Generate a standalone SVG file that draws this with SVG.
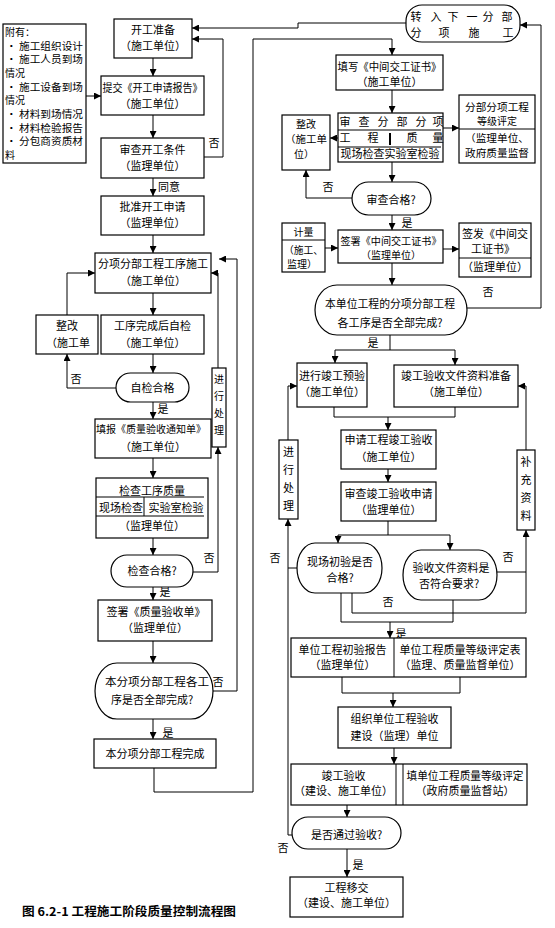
<svg xmlns="http://www.w3.org/2000/svg" width="555" height="928" viewBox="0 0 555 928">
<style>
text{font-family:"Noto Sans CJK SC","Noto Sans",sans-serif;font-size:11px;fill:#000;text-anchor:middle}
.l{text-anchor:start}
.s{font-size:10px}
.at{font-size:10px}
.b{fill:#fff;stroke:#000;stroke-width:1.2}
.ln{fill:none;stroke:#000;stroke-width:1}
.c path,.c polyline,.c line{fill:none;stroke:#000;stroke-width:1}
.cap{font-weight:bold;font-size:12px}
</style>
<defs>
<marker id="a" markerUnits="userSpaceOnUse" markerWidth="7" markerHeight="7" refX="7" refY="3.5" orient="auto">
<path d="M0,0 L7,3.5 L0,7 z" fill="#000"/>
</marker>
</defs>
<rect width="555" height="928" fill="#fff"/>

<g class="c" id="connectors">
<line x1="153" y1="58" x2="153" y2="76" marker-end="url(#a)"/>
<line x1="86" y1="96" x2="101" y2="96" marker-end="url(#a)"/>
<line x1="153" y1="115" x2="153" y2="138" marker-end="url(#a)"/>
<polyline points="204,157 223,157 223,39 192,39" marker-end="url(#a)"/>
<line x1="153" y1="178" x2="153" y2="196" marker-end="url(#a)"/>
<line x1="153" y1="235" x2="153" y2="253" marker-end="url(#a)"/>
<line x1="153" y1="293" x2="153" y2="315" marker-end="url(#a)"/>
<line x1="153" y1="354" x2="153" y2="373" marker-end="url(#a)"/>
<polyline points="116,388 67,388 67,354" marker-end="url(#a)"/>
<polyline points="67,315 67,273 95,273" marker-end="url(#a)"/>
<line x1="153" y1="402" x2="153" y2="419" marker-end="url(#a)"/>
<line x1="153" y1="458" x2="153" y2="478" marker-end="url(#a)"/>
<line x1="153" y1="538" x2="153" y2="555" marker-end="url(#a)"/>
<polyline points="193,572 218,572 218,447" marker-end="url(#a)"/>
<polyline points="218,368 218,273 211,273" marker-end="url(#a)"/>
<line x1="153" y1="587" x2="153" y2="600" marker-end="url(#a)"/>
<line x1="153" y1="641" x2="153" y2="663" marker-end="url(#a)"/>
<polyline points="213,691 237,691 237,259 219,259" marker-end="url(#a)"/>
<line x1="153" y1="719" x2="153" y2="739" marker-end="url(#a)"/>
<polyline points="154,768 154,792 253,792 253,39 392,39 392,55" marker-end="url(#a)"/>
<polyline points="406,23 298,23 298,28 192,28" marker-end="url(#a)"/>
<line x1="144" y1="556" x2="144" y2="586"/>

<line x1="392" y1="90" x2="392" y2="113" marker-end="url(#a)"/>
<line x1="443" y1="128" x2="459" y2="128" marker-end="url(#a)"/>
<line x1="338" y1="138" x2="330" y2="138" marker-end="url(#a)"/>
<line x1="392" y1="162" x2="392" y2="182" marker-end="url(#a)"/>
<polyline points="352,198 306,198 306,170" marker-end="url(#a)"/>
<line x1="392" y1="215" x2="392" y2="230" marker-end="url(#a)"/>
<line x1="325" y1="248" x2="338" y2="248" marker-end="url(#a)"/>
<line x1="443" y1="249" x2="459" y2="249" marker-end="url(#a)"/>
<line x1="392" y1="263" x2="392" y2="285" marker-end="url(#a)"/>
<polyline points="467,308 541,308 541,25 520,25" marker-end="url(#a)"/>
<polyline points="390,335 390,350"/>
<polyline points="335,350 455,350"/>
<line x1="335" y1="350" x2="335" y2="363" marker-end="url(#a)"/>
<line x1="455" y1="350" x2="455" y2="365" marker-end="url(#a)"/>
<polyline points="334,407 334,417 455,417 455,407"/>
<line x1="388" y1="417" x2="388" y2="430" marker-end="url(#a)"/>
<polyline points="288,440 288,386 297,386" marker-end="url(#a)"/>
<polyline points="526,450 526,386 518,386" marker-end="url(#a)"/>
<line x1="388" y1="469" x2="388" y2="482" marker-end="url(#a)"/>
<polyline points="388,521 388,535"/>
<polyline points="338,535 450,535"/>
<line x1="338" y1="535" x2="338" y2="543" marker-end="url(#a)"/>
<line x1="450" y1="535" x2="450" y2="550" marker-end="url(#a)"/>
<polyline points="497,572 526,572 526,530" marker-end="url(#a)"/>
<polyline points="352,593 352,613 526,613 526,572"/>
<line x1="297" y1="568" x2="288" y2="568"/>
<polyline points="292,835 288,835 288,519" marker-end="url(#a)"/>
<polyline points="341,593 341,622 453,622 453,600"/>
<line x1="390" y1="622" x2="390" y2="638" marker-end="url(#a)"/>
<polyline points="342,677 342,693 460,693 460,677"/>
<line x1="393" y1="693" x2="393" y2="707" marker-end="url(#a)"/>
<line x1="394" y1="748" x2="394" y2="764" marker-end="url(#a)"/>
<line x1="347" y1="805" x2="347" y2="817" marker-end="url(#a)"/>
<line x1="347" y1="849" x2="347" y2="877" marker-end="url(#a)"/>
</g>

<g id="labels">
<text x="214" y="147">否</text>
<text x="158" y="191" class="l">同意</text>
<text x="76" y="383">否</text>
<text x="163" y="413">是</text>
<text x="209" y="562">否</text>
<text x="165" y="596">是</text>
<text x="218" y="686">否</text>
<text x="168" y="737">是</text>
<text x="328" y="191">否</text>
<text x="407" y="227">是</text>
<text x="488" y="296">否</text>
<text x="373" y="347">是</text>
<text x="508" y="561">否</text>
<text x="388" y="606">否</text>
<text x="275" y="562">否</text>
<text x="401" y="638">是</text>
<text x="358" y="869">是</text>
<text x="283" y="852">否</text>
</g>

<g id="attach">
<rect class="b" x="3" y="24" width="83" height="139"/>
<text class="l at" x="5" y="36">附有：</text>
<text class="l at" x="6" y="49.7" textLength="77" lengthAdjust="spacingAndGlyphs">• 施工组织设计</text>
<text class="l at" x="6" y="63.3" textLength="77" lengthAdjust="spacingAndGlyphs">• 施工人员到场</text>
<text class="l at" x="5" y="77">情况</text>
<text class="l at" x="6" y="90.7" textLength="77" lengthAdjust="spacingAndGlyphs">• 施工设备到场</text>
<text class="l at" x="5" y="104.3">情况</text>
<text class="l at" x="6" y="118" textLength="77" lengthAdjust="spacingAndGlyphs">• 材料到场情况</text>
<text class="l at" x="6" y="131.7" textLength="77" lengthAdjust="spacingAndGlyphs">• 材料检验报告</text>
<text class="l at" x="6" y="145.3" textLength="77" lengthAdjust="spacingAndGlyphs">• 分包商资质材</text>
<text class="l at" x="5" y="159">料</text>
</g>
<g id="n_start"><rect class="b" x="114" y="19" width="78" height="39"/><text x="153" y="34">开工准备</text><text x="153" y="50">（施工单位）</text></g>
<g id="n_submit"><rect class="b" x="101" y="76" width="103" height="39"/><text x="152.5" y="92" textLength="100" lengthAdjust="spacingAndGlyphs">提交《开工申请报告》</text><text x="152.5" y="108">（施工单位）</text></g>
<g id="n_review"><rect class="b" x="101" y="138" width="103" height="40"/><text x="152.5" y="154">审查开工条件</text><text x="152.5" y="170">（监理单位）</text></g>
<g id="n_approve"><rect class="b" x="101" y="196" width="103" height="39"/><text x="152.5" y="211">批准开工申请</text><text x="152.5" y="227">（监理单位）</text></g>
<g id="n_construct"><rect class="b" x="95" y="253" width="116" height="40"/><text x="153" y="268">分项分部工程工序施工</text><text x="153" y="285">（施工单位）</text></g>
<g id="n_rectify1"><rect class="b" x="36" y="315" width="62" height="39"/><text x="67" y="330">整改</text><text x="68" y="347">（施工单</text></g>
<g id="n_selfcheck"><rect class="b" x="101" y="315" width="103" height="39"/><text x="152.5" y="330">工序完成后自检</text><text x="152.5" y="347">（施工单位）</text></g>
<g id="d_selfok"><rect class="b" x="116" y="373" width="73" height="29" rx="14.5"/><text x="152.5" y="392">自检合格</text></g>
<g id="n_handle1"><rect class="b" x="212" y="368" width="14" height="79"/><text class="s" x="219" y="383">进</text><text class="s" x="219" y="400">行</text><text class="s" x="219" y="417">处</text><text class="s" x="219" y="434">理</text></g>
<g id="n_notice"><rect class="b" x="95" y="419" width="116" height="39"/><text class="s" x="151" y="433" textLength="110" lengthAdjust="spacingAndGlyphs">填报《质量验收通知单》</text><text x="153" y="451">（施工单位）</text></g>
<g id="n_inspect"><rect class="b" x="96" y="478" width="112" height="60"/>
<line class="ln" x1="96" y1="497" x2="204" y2="497"/><line class="ln" x1="96" y1="516" x2="204" y2="516"/><line class="ln" x1="144" y1="497" x2="144" y2="516"/>
<text x="152" y="495">检查工序质量</text><text x="121" y="512">现场检查</text><text x="176" y="512">实验室检验</text><text x="152" y="530">（监理单位）</text></g>
<g id="d_inspok"><rect class="b" x="111" y="555" width="82" height="32" rx="16"/><text x="152" y="575">检查合格?</text></g>
<g id="n_sign"><rect class="b" x="98" y="600" width="114" height="41"/><text x="156" y="616">签署《质量验收单》</text><text x="155" y="632">（监理单位）</text></g>
<g id="d_allok"><rect class="b" x="95" y="663" width="118" height="56" rx="22" ry="28"/><text x="157" y="686" textLength="104" lengthAdjust="spacingAndGlyphs">本分项分部工程各工</text><text x="152" y="704">序是否全部完成?</text></g>
<g id="n_done"><rect class="b" x="94" y="739" width="122" height="29"/><text x="155" y="758">本分项分部工程完成</text></g>

<g id="t_next"><rect class="b" x="406" y="5" width="114" height="37" rx="16"/>
<text x="416 436 453 472 488 507" y="21">转入下一分部</text><text x="416 444 474 508" y="37">分项施工</text></g>
<g id="n_fill"><rect class="b" x="336" y="55" width="107" height="35"/><text x="389.5" y="71" textLength="104" lengthAdjust="spacingAndGlyphs">填写《中间交工证书》</text><text x="389.5" y="86">（施工单位）</text></g>
<g id="n_rev2"><rect class="b" x="338" y="113" width="105" height="49"/>
<line class="ln" x1="338" y1="130" x2="441" y2="130"/><line class="ln" x1="338" y1="147" x2="441" y2="147"/><line x1="390" y1="133" x2="390" y2="145" stroke="#000" stroke-width="2"/>
<text x="345 364 383 402 421 438" y="126">审查分部分项</text><text x="345 373 412 438" y="142">工程质量</text><text x="390" y="158" textLength="99" lengthAdjust="spacingAndGlyphs">现场检查实验室检验</text></g>
<g id="n_grade"><rect class="b" x="459" y="95" width="76" height="68"/><line class="ln" x1="459" y1="129" x2="535" y2="129"/>
<text class="s" x="497" y="111" textLength="64" lengthAdjust="spacingAndGlyphs">分部分项工程</text><text class="s" x="497" y="125">等级评定</text><text class="s" x="497" y="142" textLength="64" lengthAdjust="spacingAndGlyphs">（监理单位、</text><text class="s" x="497" y="157" textLength="64" lengthAdjust="spacingAndGlyphs">政府质量监督</text></g>
<g id="n_rect2"><rect class="b" x="282" y="115" width="48" height="55"/><text class="s" x="306" y="128">整改</text><text class="s" x="306" y="143" textLength="42" lengthAdjust="spacingAndGlyphs">（施工单</text><text class="s" x="304" y="158">位）</text></g>
<g id="d_rev2ok"><rect class="b" x="352" y="182" width="79" height="33" rx="16.5"/><text x="391" y="204">审查合格?</text></g>
<g id="n_meter"><rect class="b" x="282" y="223" width="43" height="49"/><line class="ln" x1="282" y1="240" x2="325" y2="240"/>
<text class="s" x="303.5" y="236">计量</text><text class="s" x="303.5" y="254" textLength="39" lengthAdjust="spacingAndGlyphs">（施工、</text><text class="s" x="302" y="268">监理）</text></g>
<g id="n_sign2"><rect class="b" x="338" y="230" width="105" height="33"/><text class="s" x="391" y="244.5" textLength="101" lengthAdjust="spacingAndGlyphs">签署《中间交工证书》</text><text class="s" x="391" y="259">（监理单位）</text></g>
<g id="n_issue"><rect class="b" x="459" y="223" width="72" height="54"/><line class="ln" x1="459" y1="258" x2="531" y2="258"/>
<text x="495" y="238">签发《中间交</text><text x="493" y="253">工证书》</text><text x="495" y="271">（监理单位）</text></g>
<g id="d_unitall"><rect class="b" x="315" y="285" width="152" height="50" rx="22" ry="25"/><text x="390" y="308" textLength="130" lengthAdjust="spacingAndGlyphs">本单位工程的分项分部工程</text><text x="390" y="327" textLength="105" lengthAdjust="spacingAndGlyphs">各工序是否全部完成?</text></g>
<g id="n_pre"><rect class="b" x="297" y="363" width="70" height="44"/><text x="332" y="380">进行竣工预验</text><text x="332" y="396">（施工单位）</text></g>
<g id="n_docs"><rect class="b" x="394" y="365" width="124" height="42"/><text x="456" y="380">竣工验收文件资料准备</text><text x="456" y="396">（施工单位）</text></g>
<g id="n_apply"><rect class="b" x="341" y="430" width="95" height="39"/><text x="388.5" y="444">申请工程竣工验收</text><text x="388.5" y="461">（施工单位）</text></g>
<g id="n_handle2"><rect class="b" x="279" y="440" width="19" height="79"/><text x="288.5" y="456">进</text><text x="288.5" y="474">行</text><text x="288.5" y="492">处</text><text x="288.5" y="510">理</text></g>
<g id="n_supp"><rect class="b" x="517" y="450" width="18" height="80"/><text x="526" y="466">补</text><text x="526" y="484">充</text><text x="526" y="502">资</text><text x="526" y="520">料</text></g>
<g id="n_rev3"><rect class="b" x="341" y="482" width="95" height="39"/><text x="388.5" y="498">审查竣工验收申请</text><text x="388.5" y="514">（监理单位）</text></g>
<g id="d_site"><rect class="b" x="297" y="543" width="85" height="50" rx="18" ry="25"/><text x="340" y="566">现场初验是否</text><text x="340" y="582">合格?</text></g>
<g id="d_docok"><rect class="b" x="403" y="550" width="94" height="50" rx="18" ry="25"/><text x="451" y="572">验收文件资料是</text><text x="449" y="588">否符合要求?</text></g>
<g id="n_rep"><rect class="b" x="291" y="638" width="235" height="39"/><line class="ln" x1="394" y1="638" x2="394" y2="677"/>
<text x="342.5" y="654">单位工程初验报告</text><text x="342.5" y="669">（监理单位）</text><text x="460" y="654">单位工程质量等级评定表</text><text x="460" y="669">（监理、质量监督单位）</text></g>
<g id="n_org"><rect class="b" x="338" y="707" width="113" height="41"/><text x="394.5" y="723">组织单位工程验收</text><text x="394.5" y="740">建设（监理）单位</text></g>
<g id="n_final"><rect class="b" x="291" y="764" width="236" height="41"/><line class="ln" x1="396" y1="764" x2="396" y2="805"/><line class="ln" x1="403" y1="764" x2="403" y2="805"/>
<text x="343.5" y="780">竣工验收</text><text x="343.5" y="795">（建设、施工单位）</text><text x="465" y="780" textLength="117" lengthAdjust="spacingAndGlyphs">填单位工程质量等级评定</text><text x="465" y="795">（政府质量监督站）</text></g>
<g id="d_pass"><rect class="b" x="292" y="817" width="109" height="32" rx="16"/><text x="346.5" y="839">是否通过验收?</text></g>
<g id="n_transfer"><rect class="b" x="290" y="877" width="113" height="40"/><text x="346.5" y="892">工程移交</text><text x="346.5" y="907">（建设、施工单位）</text></g>

<text class="l cap" x="22" y="916" textLength="214" lengthAdjust="spacingAndGlyphs">图 6.2-1 工程施工阶段质量控制流程图</text>
</svg>
